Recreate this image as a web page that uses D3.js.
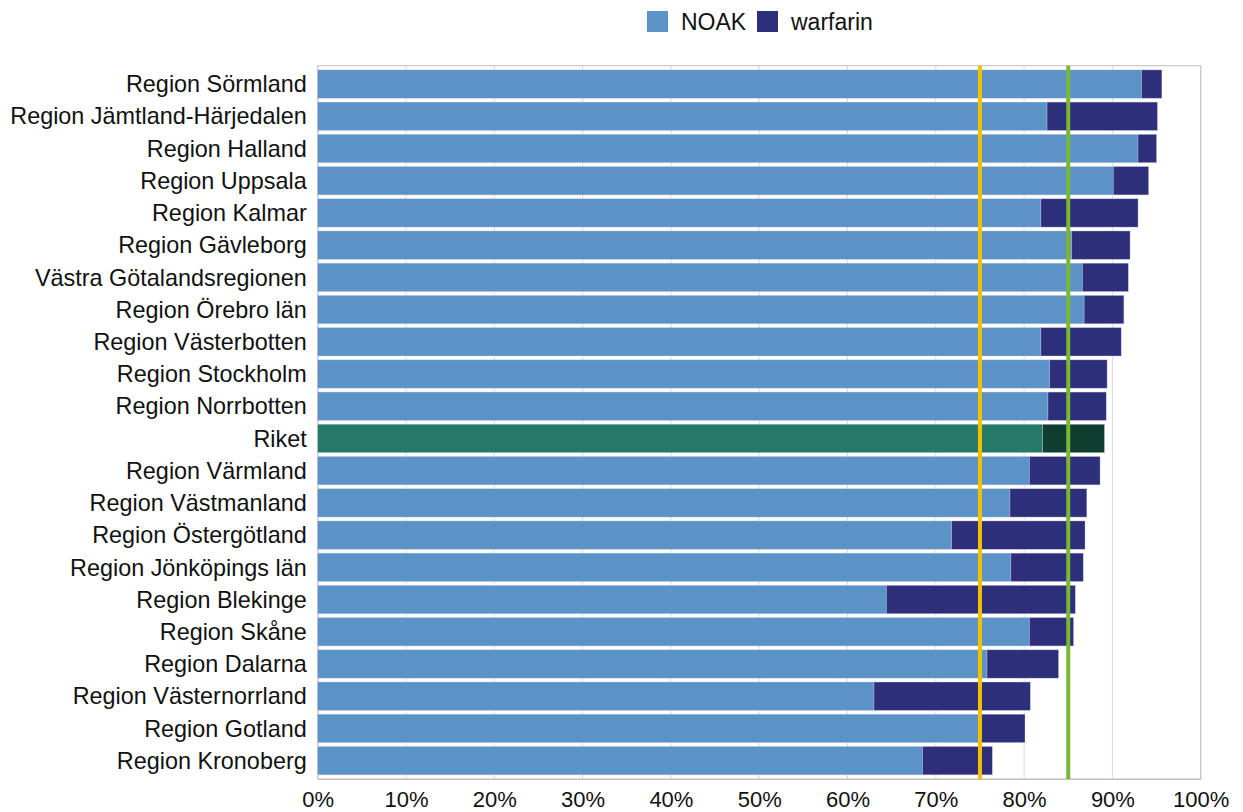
<!DOCTYPE html>
<html>
<head>
<meta charset="utf-8">
<script src="https://cdn.jsdelivr.net/npm/d3@7"></script>
<style>
  body { margin: 0; background: #fff; }
  svg { font-family: "Liberation Sans", Arial, sans-serif; }
</style>
</head>
<body>
<svg width="1243" height="812"></svg>
<script>
var regions = ["Region Sörmland", "Region Jämtland-Härjedalen", "Region Halland", "Region Uppsala",
  "Region Kalmar", "Region Gävleborg", "Västra Götalandsregionen", "Region Örebro län",
  "Region Västerbotten", "Region Stockholm", "Region Norrbotten", "Riket", "Region Värmland",
  "Region Västmanland", "Region Östergötland", "Region Jönköpings län", "Region Blekinge",
  "Region Skåne", "Region Dalarna", "Region Västernorrland", "Region Gotland", "Region Kronoberg"];
var noak = [93.3, 82.6, 92.9, 90.1, 81.9, 85.4, 86.6, 86.8, 81.9, 82.9, 82.7, 82.1, 80.6,
  78.4, 71.8, 78.5, 64.4, 80.6, 75.8, 63.0, 74.9, 68.5];
var warfarin = [2.3, 12.5, 2.1, 4.0, 11.0, 6.6, 5.2, 4.5, 9.1, 6.5, 6.6, 7.0, 8.0,
  8.7, 15.1, 8.2, 21.4, 5.0, 8.1, 17.7, 5.2, 7.9];
var seriesNames = ["NOAK", "warfarin"];
var xTicks = [0, 10, 20, 30, 40, 50, 60, 70, 80, 90, 100];
var targetLow = 75, targetHigh = 85;

var svg = d3.select("svg");
var margin = {top: 65.7, right: 42.3, bottom: 33, left: 317.7};
var width = 1243 - margin.left - margin.right;
var height = 812 - margin.top - margin.bottom;

var colors = {NOAK: "#5b93c7", warfarin: "#2e2f7a"};
var rikColors = {NOAK: "#267a68", warfarin: "#0f3d30"};

var x = d3.scaleLinear().domain([0, 100]).range([0, width]);
var y = d3.scaleBand().domain(regions).range([0, height]).paddingInner(0.12).paddingOuter(0.13);

var g = svg.append("g").attr("transform", "translate(" + margin.left + "," + margin.top + ")");

// grid
g.selectAll("line.grid")
  .data(xTicks)
  .enter()
  .append("line")
    .attr("class", "grid")
    .attr("x1", function(d) {return x(d);})
    .attr("x2", function(d) {return x(d);})
    .attr("y1", 0)
    .attr("y2", height)
    .attr("stroke", "#d9d9d9")
    .attr("stroke-width", 1);

// frame
g.append("rect")
  .attr("x", 0).attr("y", 0)
  .attr("width", width).attr("height", height)
  .attr("fill", "none")
  .attr("stroke", "#c8c8c8")
  .attr("stroke-width", 1.2);

var rows = regions.map(function(r, i) {
  return {region: r, NOAK: noak[i], warfarin: warfarin[i]};
});
var stacked = d3.stack().keys(seriesNames)(rows);

g.selectAll("g.series")
  .data(stacked)
  .enter()
  .append("g")
    .attr("class", "series")
  .selectAll("rect")
  .data(function(s) {return s.map(function(d) {return {key: s.key, d: d};});})
  .enter()
  .append("rect")
    .attr("x", function(p) {return x(p.d[0]);})
    .attr("y", function(p) {return y(p.d.data.region);})
    .attr("width", function(p) {return x(p.d[1]) - x(p.d[0]);})
    .attr("height", y.bandwidth())
    .attr("fill", function(p) {
      return p.d.data.region === "Riket" ? rikColors[p.key] : colors[p.key];
    })
    .attr("stroke", "rgba(200,200,230,0.6)")
    .attr("stroke-width", 0.6);

// target lines
g.append("line")
  .attr("x1", x(targetLow)).attr("x2", x(targetLow))
  .attr("y1", 0).attr("y2", height)
  .attr("stroke", "#f2c200").attr("stroke-width", 4);
g.append("line")
  .attr("x1", x(targetHigh)).attr("x2", x(targetHigh))
  .attr("y1", 0).attr("y2", height)
  .attr("stroke", "#78b832").attr("stroke-width", 4);

// x axis
var xAxis = g.append("g")
  .attr("transform", "translate(0," + height + ")")
  .call(d3.axisBottom(x).tickValues(xTicks).tickSize(0).tickPadding(12)
    .tickFormat(function(d) {return d + "%";}));
xAxis.select(".domain").attr("stroke", "#bfbfbf");
xAxis.selectAll("text").attr("font-size", 22).attr("fill", "#111")
  .attr("font-family", "Liberation Sans, Arial, sans-serif");

// y labels
g.selectAll("text.ylab")
  .data(regions)
  .enter()
  .append("text")
    .attr("class", "ylab")
    .attr("x", -11)
    .attr("y", function(d) {return y(d) + y.bandwidth() / 2;})
    .attr("dy", "0.35em")
    .attr("text-anchor", "end")
    .attr("font-size", 23.4)
    .attr("fill", "#111")
    .text(function(d) {return d;});

// legend
var legend = svg.append("g").attr("transform", "translate(647,11)");
var legendX = [0, 110];
seriesNames.forEach(function(name, i) {
  var lg = legend.append("g").attr("transform", "translate(" + legendX[i] + ",0)");
  lg.append("rect").attr("width", 21).attr("height", 21).attr("fill", colors[name]);
  lg.append("text").attr("x", 34).attr("y", 10.5).attr("dy", "0.35em")
    .attr("font-size", 23).attr("fill", "#111").text(name);
});
</script>
</body>
</html>
